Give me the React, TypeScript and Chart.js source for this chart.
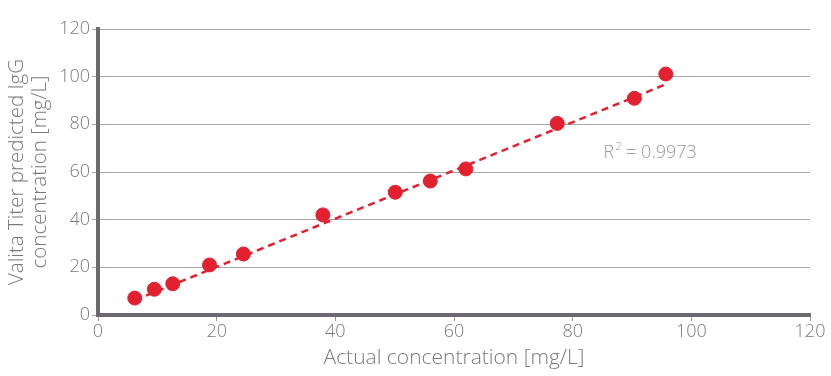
import React, { useEffect, useRef } from "react";
import { Chart, registerables } from "chart.js";

Chart.register(...registerables);

// Data
const actualConc = [6.2, 9.5, 12.6, 18.8, 24.5, 37.9, 50.1, 56.0, 62.0, 77.4, 90.4, 95.7];
const predictedConc = [7.1, 10.8, 13.1, 21.0, 25.6, 42.0, 51.5, 56.2, 61.3, 80.4, 90.9, 101.1];
const trendX = [6.2, 95.7];
const trendY = [6.2, 96.8];
const xTicks = [0, 20, 40, 60, 80, 100, 120];
const yTicks = [0, 20, 40, 60, 80, 100, 120];
const rSquared = "0.9973";
const xTitle = "Actual concentration [mg/L]";
const yTitle = ["Valita Titer predicted IgG", "concentration [mg/L]"];

const FONT = "'Open Sans', sans-serif";
const WEIGHT = 300;
const RED = "#e3202f";
const GREY_TEXT = "#7a7a7a";
const AXIS = "#6d6870";

const rLabelPlugin = {
  id: "rLabel",
  afterDatasetsDraw(chart: any) {
    const { ctx, scales } = chart;
    const px = scales.x.getPixelForValue(85.2);
    const py = scales.y.getPixelForValue(68);
    ctx.save();
    ctx.fillStyle = "#9a9a9a";
    ctx.textBaseline = "middle";
    ctx.textAlign = "left";
    ctx.font = `${WEIGHT} 18px ${FONT}`;
    ctx.fillText("R", px, py);
    const w = ctx.measureText("R").width;
    ctx.font = `${WEIGHT} 11px ${FONT}`;
    ctx.fillText("2", px + w + 1, py - 6);
    const w2 = ctx.measureText("2").width;
    ctx.font = `${WEIGHT} 18px ${FONT}`;
    ctx.fillText(" = " + rSquared, px + w + w2 + 1, py);
    ctx.restore();
  },
};

export default function App() {
  const ref = useRef<HTMLCanvasElement | null>(null);
  useEffect(() => {
    if (!ref.current) return;
    const chart = new Chart(ref.current, {
      type: "scatter",
      data: {
        datasets: [
          {
            label: "Samples",
            data: actualConc.map((x, i) => ({ x, y: predictedConc[i] })),
            backgroundColor: RED,
            borderColor: RED,
            pointRadius: 7,
            pointHoverRadius: 7,
            order: 0,
          },
          {
            label: "Trend",
            data: trendX.map((x, i) => ({ x, y: trendY[i] })),
            showLine: true,
            borderColor: RED,
            borderWidth: 2.5,
            borderDash: [7, 5],
            pointRadius: 0,
            fill: false,
            order: 1,
          } as any,
        ],
      },
      options: {
        animation: false,
        responsive: false,
        maintainAspectRatio: false,
        layout: { padding: { top: 29, right: 21, left: 6, bottom: 0 } },
        plugins: {
          legend: { display: false },
          tooltip: { enabled: false },
        },
        scales: {
          x: {
            type: "linear",
            min: 0,
            max: 120,
            afterBuildTicks: (s: any) => {
              s.ticks = xTicks.map((v) => ({ value: v }));
            },
            afterFit: (s: any) => {
              s.height = 61;
            },
            border: { display: true, color: AXIS, width: 4 },
            grid: {
              drawOnChartArea: false,
              drawTicks: true,
              tickLength: 6,
              tickColor: "#9a9a9a",
              tickWidth: 1,
            },
            ticks: {
              color: GREY_TEXT,
              font: { family: FONT, size: 18, weight: WEIGHT },
              padding: 0,
              maxRotation: 0,
            },
            title: {
              display: true,
              text: xTitle,
              color: GREY_TEXT,
              font: { family: FONT, size: 21, weight: WEIGHT },
              padding: { top: 0, bottom: 5 },
            },
          },
          y: {
            type: "linear",
            min: 0,
            max: 120,
            afterBuildTicks: (s: any) => {
              s.ticks = yTicks.map((v) => ({ value: v }));
            },
            afterFit: (s: any) => {
              s.width = 92;
            },
            border: { display: true, color: AXIS, width: 4 },
            grid: {
              color: "#a6a6a6",
              lineWidth: 1,
              drawTicks: true,
              tickLength: 6,
              tickColor: "#a6a6a6",
            },
            ticks: {
              color: GREY_TEXT,
              font: { family: FONT, size: 18, weight: WEIGHT },
              padding: 2,
            },
            title: {
              display: true,
              text: yTitle,
              color: GREY_TEXT,
              font: { family: FONT, size: 20.5, lineHeight: 1.1, weight: WEIGHT },
              padding: { top: 0, bottom: 4 },
            },
          },
        },
      },
      plugins: [rLabelPlugin],
    });
    return () => chart.destroy();
  }, []);
  return (
    <div style={{ position: "fixed", left: 0, top: 0, width: 831, height: 376, background: "#fff" }}>
      <canvas ref={ref} width={831} height={376} style={{ width: 831, height: 376 }} />
    </div>
  );
}
